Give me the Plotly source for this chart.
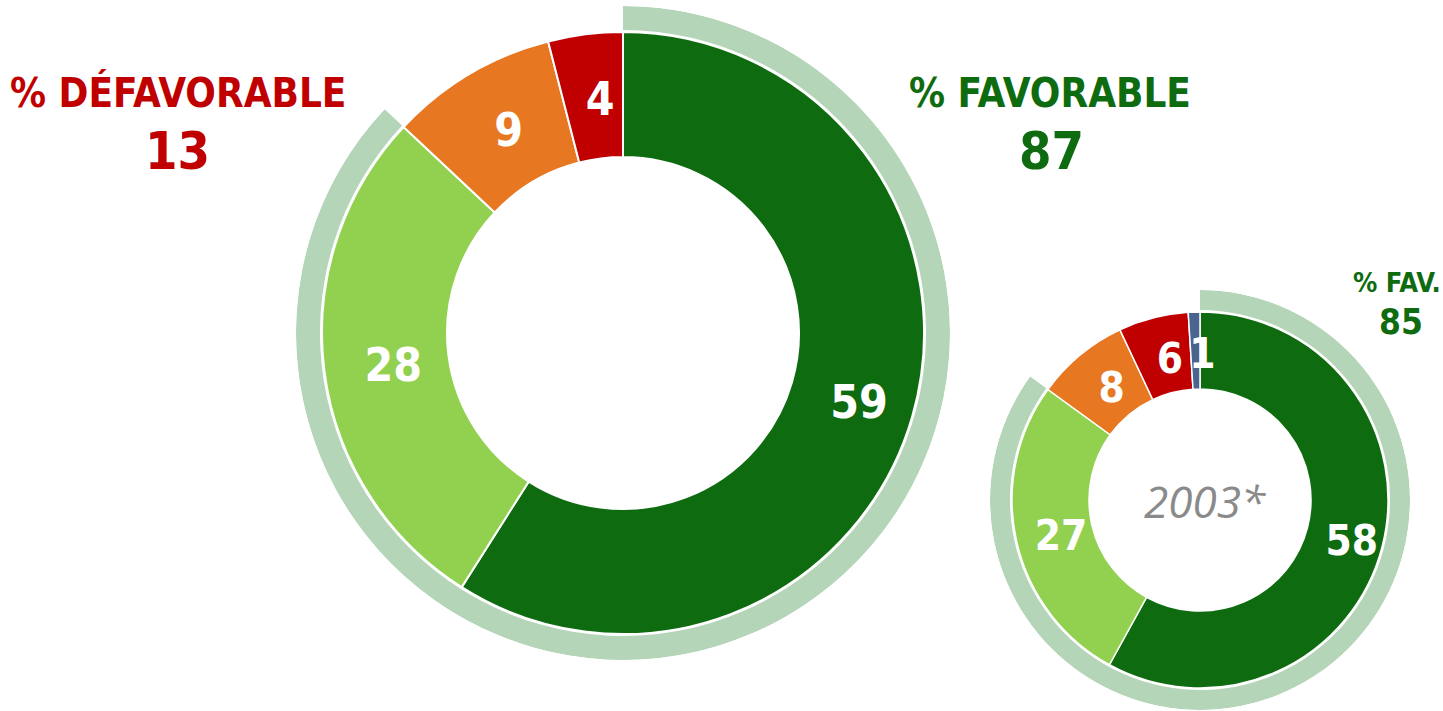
import numpy as np
import plotly.graph_objects as go

W, H = 1443, 711

# ---- data ----
labels_2023 = ["Très favorable", "Plutôt favorable", "Plutôt défavorable", "Très défavorable"]
values_2023 = [59, 28, 9, 4]
labels_2003 = ["Très favorable", "Plutôt favorable", "Plutôt défavorable", "Très défavorable", "NSP"]
values_2003 = [58, 27, 8, 6, 1]
fav_2023, defav_2023 = 87, 13
fav_2003 = 85
year_label = "2003*"

# ---- styles ----
colors_2023 = ["#0e6b10", "#92d050", "#e87722", "#c00000"]
colors_2003 = ["#0e6b10", "#92d050", "#e87722", "#c00000", "#4a6490"]
ring_color = "#b5d5b8"
RED, GREEN = "#c00000", "#0e6b10"
FONT = "DejaVu Sans Condensed, DejaVu Sans, sans-serif"
LABEL_SHIFT = (7, 7)  # label nudge in pixels (right, down)

# geometry (pixels): center, hole radius, donut radius, ring inner/outer radius
BIG = dict(cx=623, cy=333, r_in=176, r_out=301, ring_in=303, ring_out=327, fs=46, lw=2)
SMALL = dict(cx=1200, cy=500, r_in=111, r_out=188, ring_in=190, ring_out=210, fs=42, lw=1.5)


def dom(g):
    cx, cy, r = g["cx"], g["cy"], g["ring_out"]
    return dict(x=[(cx - r) / W, (cx + r) / W], y=[(H - (cy + r)) / H, (H - (cy - r)) / H])


fig = go.Figure()


def add_donut(values, labels, colors, fav, g, sub):
    vals = np.array(values, dtype=float)
    widths = vals / vals.sum() * 360
    mids = np.cumsum(widths) - widths / 2
    # favourable ring
    fig.add_trace(go.Barpolar(
        theta=[fav / 100 * 360 / 2], width=[fav / 100 * 360], base=[g["ring_in"]],
        r=[g["ring_out"] - g["ring_in"]], marker=dict(color=ring_color, line=dict(width=0)),
        hoverinfo="skip", subplot=sub, showlegend=False,
    ))
    # slices
    fig.add_trace(go.Barpolar(
        theta=mids, width=widths, base=[g["r_in"]] * len(vals), r=[g["r_out"] - g["r_in"]] * len(vals),
        marker=dict(color=colors, line=dict(color="white", width=g["lw"])),
        customdata=labels, hovertemplate="%{customdata}: %{text}%<extra></extra>",
        text=[str(v) for v in values], subplot=sub, showlegend=False,
    ))
    # value labels at mid-ring, with a small pixel nudge (radial units == pixels here)
    rm = (g["r_in"] + g["r_out"]) / 2
    th = np.deg2rad(mids)
    xs = rm * np.sin(th) + LABEL_SHIFT[0]
    ys = rm * np.cos(th) - LABEL_SHIFT[1]
    fig.add_trace(go.Scatterpolar(
        theta=np.rad2deg(np.arctan2(xs, ys)), r=np.hypot(xs, ys),
        text=[str(v) for v in values], mode="text", textposition="middle center",
        textfont=dict(family=FONT, size=g["fs"], color="white", weight="bold"),
        hoverinfo="skip", subplot=sub, showlegend=False,
    ))


add_donut(values_2023, labels_2023, colors_2023, fav_2023, BIG, "polar")
add_donut(values_2003, labels_2003, colors_2003, fav_2003, SMALL, "polar2")

polar_common = dict(
    bgcolor="rgba(0,0,0,0)", barmode="overlay",
    angularaxis=dict(rotation=90, direction="clockwise", visible=False),
)
fig.update_layout(
    polar=dict(domain=dom(BIG), radialaxis=dict(range=[0, BIG["ring_out"]], visible=False), **polar_common),
    polar2=dict(domain=dom(SMALL), radialaxis=dict(range=[0, SMALL["ring_out"]], visible=False), **polar_common),
)


def ann(text, px, py, size, color, family=FONT, weight="bold", style="normal"):
    fig.add_annotation(
        text=text, x=px / W, y=1 - py / H, xref="paper", yref="paper",
        xanchor="center", yanchor="middle", showarrow=False,
        font=dict(family=family, size=size, color=color, weight=weight, style=style),
    )


ann("% DÉFAVORABLE", 178, 93, 40, RED)
ann(str(defav_2023), 177, 151, 52, RED)
ann("% FAVORABLE", 1050, 93, 40, GREEN)
ann(str(fav_2023), 1051, 151, 52, GREEN)
ann("% FAV.", 1397, 282, 27, GREEN)
ann(str(fav_2003), 1401, 322, 35, GREEN)
ann(year_label, 1205, 501, 44, "#8a8a8a", family="Open Sans, sans-serif", weight="normal", style="italic")

fig.update_layout(
    width=W, height=H, margin=dict(l=0, r=0, t=0, b=0),
    paper_bgcolor="white", plot_bgcolor="white", showlegend=False,
)

fig.write_html(
    "out.html",
    config={"displayModeBar": False},
    post_script="document.body.style.margin='0';document.body.style.overflow='hidden';",
)
